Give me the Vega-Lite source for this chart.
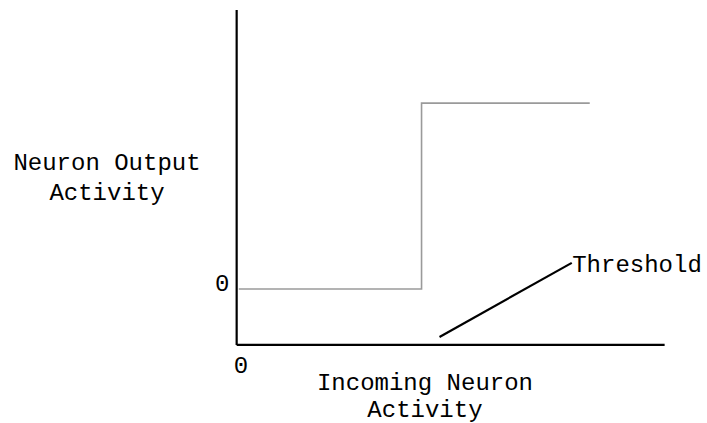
{
  "$schema": "https://vega.github.io/schema/vega-lite/v6.json",
  "width": 707,
  "height": 423,
  "autosize": "none",
  "padding": 0,
  "background": "white",
  "config": {"view": {"stroke": null}},
  "datasets": {
    "lines": [
      {"id": "yaxis", "ord": 0, "x": 0, "y": 10},
      {"id": "yaxis", "ord": 1, "x": 0, "y": 0},
      {"id": "xaxis", "ord": 0, "x": 0, "y": 0},
      {"id": "xaxis", "ord": 1, "x": 10, "y": 0},
      {"id": "threshold", "ord": 0, "x": 4.74, "y": 0.24},
      {"id": "threshold", "ord": 1, "x": 7.83, "y": 2.45}
    ],
    "step": [
      {"ord": 0, "x": 0.05, "y": 1.67},
      {"ord": 1, "x": 4.32, "y": 1.67},
      {"ord": 2, "x": 4.32, "y": 7.22},
      {"ord": 3, "x": 8.25, "y": 7.22}
    ],
    "labels": [
      {"label": "Neuron Output", "x": -3.03, "y": 5.43},
      {"label": "Activity", "x": -3.03, "y": 4.54},
      {"label": "0", "x": -0.34, "y": 1.82},
      {"label": "0", "x": 0.1, "y": -0.63},
      {"label": "Incoming Neuron", "x": 4.4, "y": -1.13},
      {"label": "Activity", "x": 4.4, "y": -1.93}
    ],
    "leftlabels": [
      {"label": "Threshold", "x": 7.84, "y": 2.39}
    ]
  },
  "layer": [
    {
      "data": {"name": "lines"},
      "mark": {"type": "line", "color": "#000000", "strokeWidth": 2.2, "strokeCap": "butt"},
      "encoding": {
        "x": {"field": "x", "type": "quantitative", "scale": {"domain": [-5.53, 10.99], "nice": false, "zero": false}, "axis": null},
        "y": {"field": "y", "type": "quantitative", "scale": {"domain": [-2.33, 10.3], "nice": false, "zero": false}, "axis": null},
        "detail": {"field": "id"},
        "order": {"field": "ord"}
      }
    },
    {
      "data": {"name": "step"},
      "mark": {"type": "line", "color": "#9a9a9a", "strokeWidth": 1.6},
      "encoding": {
        "x": {"field": "x", "type": "quantitative"},
        "y": {"field": "y", "type": "quantitative"},
        "order": {"field": "ord"}
      }
    },
    {
      "data": {"name": "labels"},
      "mark": {"type": "text", "font": "Liberation Mono", "fontSize": 24, "align": "center", "baseline": "middle", "color": "#000000"},
      "encoding": {
        "x": {"field": "x", "type": "quantitative"},
        "y": {"field": "y", "type": "quantitative"},
        "text": {"field": "label"}
      }
    },
    {
      "data": {"name": "leftlabels"},
      "mark": {"type": "text", "font": "Liberation Mono", "fontSize": 24, "align": "left", "baseline": "middle", "color": "#000000"},
      "encoding": {
        "x": {"field": "x", "type": "quantitative"},
        "y": {"field": "y", "type": "quantitative"},
        "text": {"field": "label"}
      }
    }
  ]
}
